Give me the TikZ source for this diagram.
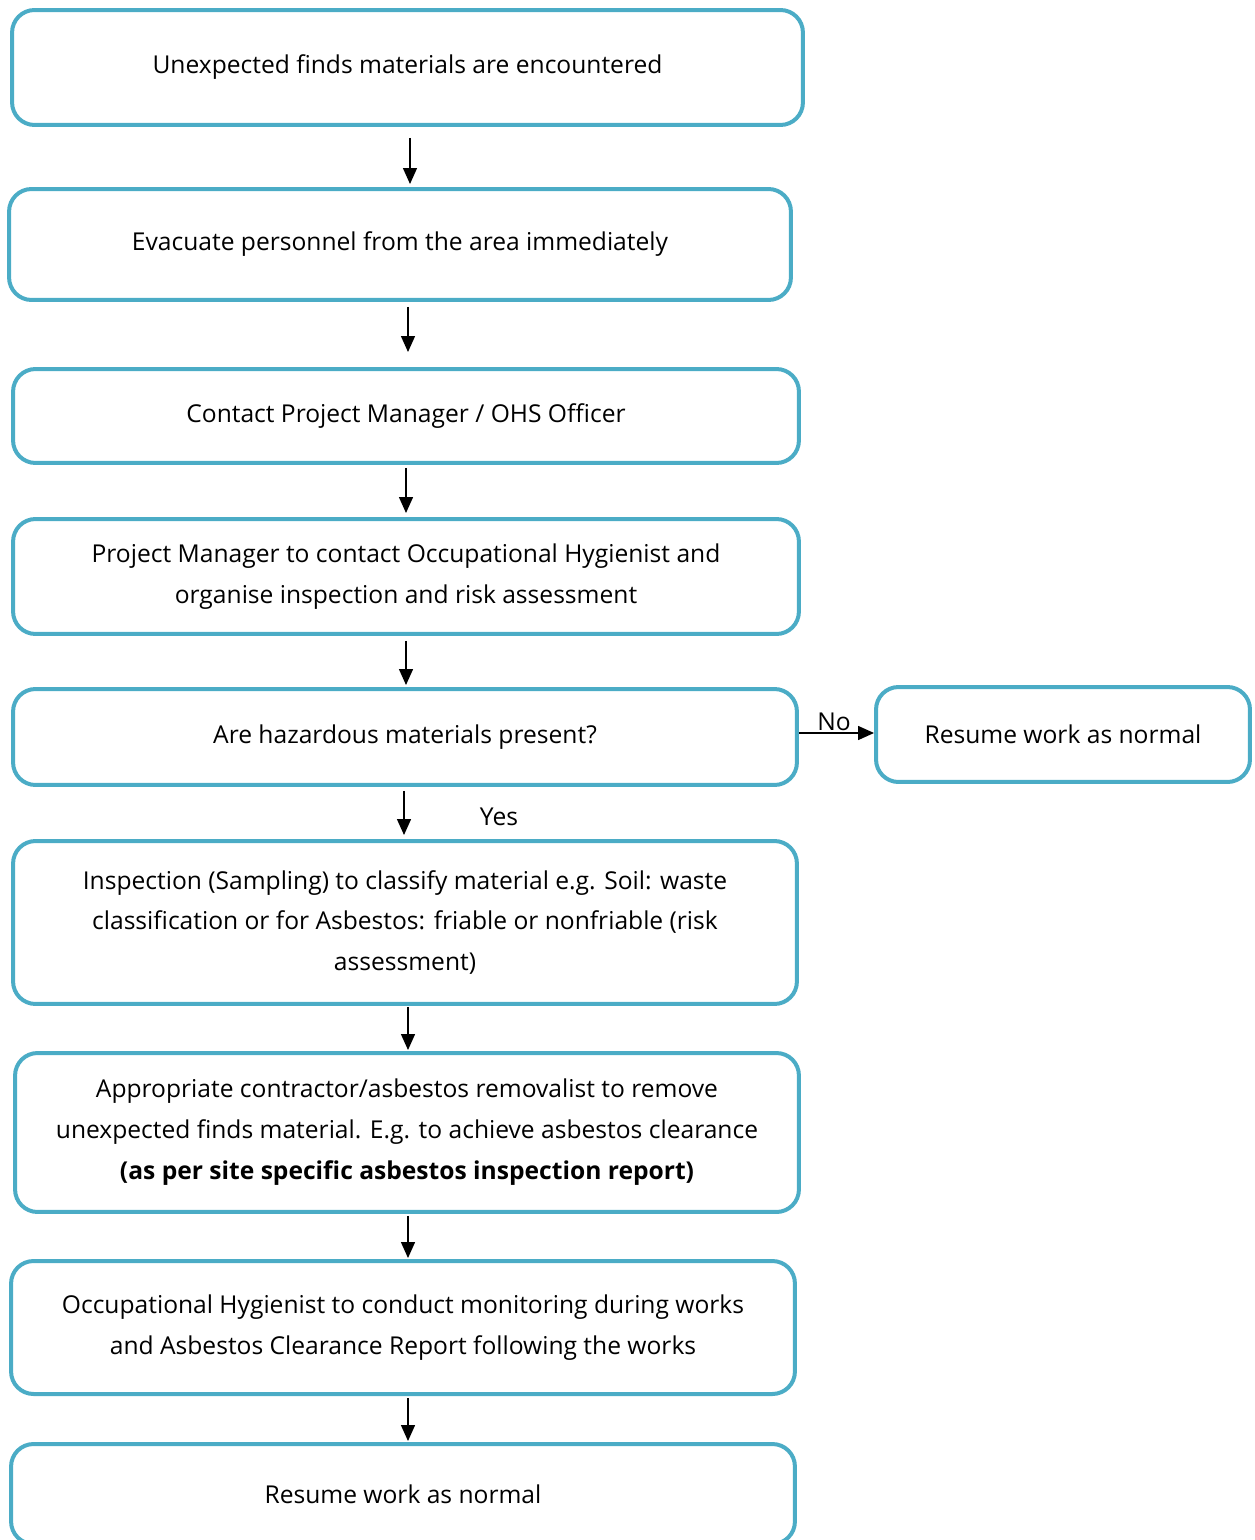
\documentclass[tikz,border=0pt]{standalone}
\usepackage{fontspec}
\setmainfont{Open Sans}
\usepackage{tikz}
\usetikzlibrary{arrows.meta}
\definecolor{boxline}{RGB}{75,172,198}
\definecolor{darktext}{RGB}{0,0,0}

\tikzset{
  stepbox/.style={draw=boxline, line width=0.08cm, rounded corners=0.45cm,
    align=center, inner sep=0pt, text=darktext,
    font=\fontsize{14}{23.3}\selectfont},
  flow/.style={-{Triangle[length=0.32cm,width=0.28cm]}, line width=0.8pt},
  tag/.style={font=\fontsize{14}{23.3}\selectfont, inner sep=0pt, text=darktext},
}

\begin{document}
\begin{tikzpicture}[x=0.02cm, y=-0.02cm]
  % page frame
  \useasboundingbox (0,0) rectangle (1254,1540);

  % Main column of steps
  \node[stepbox, minimum width=15.82cm, minimum height=2.30cm] (unexpected) at (407.5,67.5)
    {Unexpected finds materials are encountered};
  \node[stepbox, minimum width=15.64cm, minimum height=2.22cm] (evacuate) at (400,244.5)
    {Evacuate personnel from the area immediately};
  \node[stepbox, minimum width=15.72cm, minimum height=1.88cm] (contact) at (406,416)
    {Contact Project Manager / OHS Officer};
  \node[stepbox, minimum width=15.72cm, minimum height=2.30cm] (hygienist) at (406,576.5)
    {Project Manager to contact Occupational Hygienist and\\organise inspection and risk assessment};

  % Decision
  \node[stepbox, minimum width=15.68cm, minimum height=1.92cm] (hazard) at (405,737)
    {Are hazardous materials present?};
  % No branch
  \node[stepbox, minimum width=7.48cm, minimum height=1.90cm] (resumeside) at (1063,734.5)
    {Resume work as normal};

  % Yes branch
  \node[stepbox, minimum width=15.68cm, minimum height=3.26cm] (inspect) at (405,922.5)
    {Inspection (Sampling) to classify material e.g. Soil: waste\\
     classification or for Asbestos: friable or nonfriable (risk\\assessment)};
  \node[stepbox, minimum width=15.68cm, minimum height=3.18cm] (removal) at (407,1132.5)
    {Appropriate contractor/asbestos removalist to remove\\
     unexpected finds material. E.g. to achieve asbestos clearance\\
     \textbf{(as per site specific asbestos inspection report)}};
  \node[stepbox, minimum width=15.68cm, minimum height=2.66cm] (monitor) at (403,1327.5)
    {Occupational Hygienist to conduct monitoring during works\\
     and Asbestos Clearance Report following the works};
  \node[stepbox, minimum width=15.68cm, minimum height=2.00cm] (resume) at (403,1494)
    {Resume work as normal};

  % Arrows
  \draw[flow, shorten <=0.22cm, shorten >=0.06cm] (unexpected.south -| 410,0) -- (evacuate.north -| 410,0);
  \draw[flow, shorten <=0.10cm, shorten >=0.30cm] (evacuate.south -| 408,0) -- (contact.north -| 408,0);
  \draw[flow, shorten <=0.06cm, shorten >=0.08cm] (contact.south -| 406,0) -- (hygienist.north -| 406,0);
  \draw[flow, shorten <=0.10cm, shorten >=0.04cm] (hygienist.south -| 406,0) -- (hazard.north -| 406,0);
  \draw[flow, shorten <=0.08cm, shorten >=0.08cm] (hazard.south -| 404,0) -- (inspect.north -| 404,0);
  \draw[flow, shorten <=0.02cm, shorten >=0.02cm] (inspect.south -| 408,0) -- (removal.north -| 408,0);
  \draw[flow, shorten <=0.04cm, shorten >=0.02cm] (removal.south -| 408,0) -- (monitor.north -| 408,0);
  \draw[flow, shorten <=0.04cm, shorten >=0.02cm] (monitor.south -| 408,0) -- (resume.north -| 408,0);
  \draw[flow] (hazard.east |- 0,733) -- (resumeside.west |- 0,733);

  % Branch labels
  \node[tag] (no) at (834,722) {No};
  \node[tag] (yes) at (499,817) {Yes};
\end{tikzpicture}
\end{document}
